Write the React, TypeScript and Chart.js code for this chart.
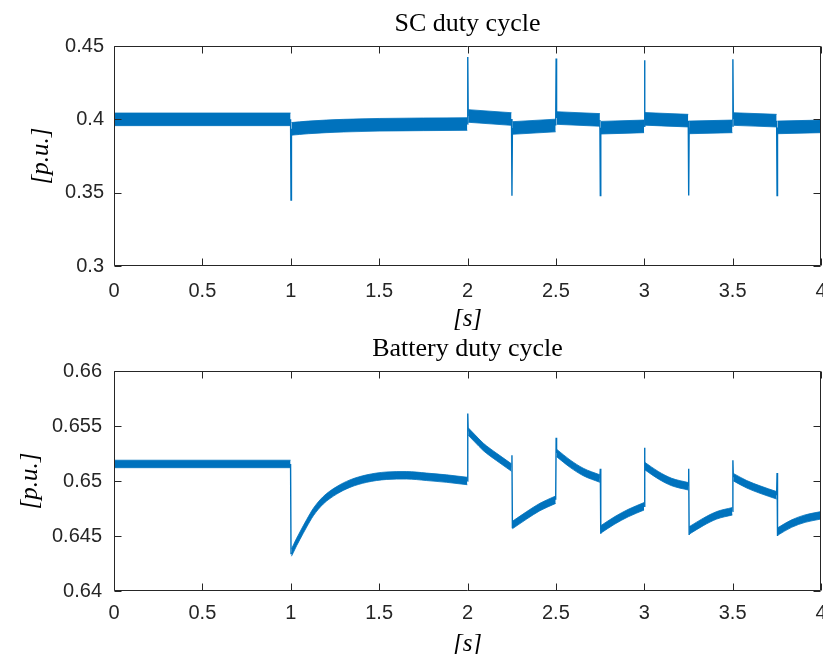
import React, { useEffect, useRef } from 'react';
import { Chart, registerables } from 'chart.js';

Chart.register(...registerables);

// ---------- text ----------
const scTitle = 'SC duty cycle';
const batTitle = 'Battery duty cycle';
const yLabel = '[p.u.]';
const xLabel = '[s]';

// ---------- ticks ----------
const xTicks = [0, 0.5, 1, 1.5, 2, 2.5, 3, 3.5, 4];
const scYTicks = [0.3, 0.35, 0.4, 0.45];
const batYTicks = [0.64, 0.645, 0.65, 0.655, 0.66];

// ---------- SC duty cycle: centre of the noisy band (null = break) ----------
const scBandTime = [
  0, 0.999, 1.0,
  1.004, 1.05, 1.1, 1.2, 1.3, 1.5, 1.75, 1.999, 2.0,
  2.004, 2.249, 2.25,
  2.254, 2.499, 2.5,
  2.504, 2.749, 2.75,
  2.754, 2.999, 3.0,
  3.004, 3.249, 3.25,
  3.254, 3.499, 3.5,
  3.504, 3.749, 3.75,
  3.754, 4.0,
];
const scBandValue = [
  0.4, 0.4, null,
  0.3935, 0.394, 0.3945, 0.3952, 0.3957, 0.3963, 0.3966, 0.3968, null,
  0.4023, 0.4002, null,
  0.3941, 0.3958, null,
  0.4009, 0.3996, null,
  0.3943, 0.3952, null,
  0.4003, 0.3991, null,
  0.3945, 0.3952, null,
  0.4002, 0.3991, null,
  0.3945, 0.3952,
];
// half thickness of the noise band
const scBandHalf = 0.0043;
// switching transients
const scSpikeTime = [1.0, 2.0, 2.25, 2.5, 2.75, 3.0, 3.25, 3.5, 3.75];
const scSpikeFrom = [0.4, 0.3968, 0.4002, 0.3958, 0.3996, 0.3952, 0.3991, 0.3952, 0.3991];
const scSpikePeak = [0.345, 0.4425, 0.3479, 0.4414, 0.348, 0.4403, 0.348, 0.441, 0.348];
const scSpikeTo = [0.3935, 0.4023, 0.3941, 0.4009, 0.3943, 0.4003, 0.3945, 0.4002, 0.3945];

// ---------- Battery duty cycle ----------
const batBandTime = [
  0, 0.999, 1.0,
  1.004, 1.015, 1.033, 1.052, 1.09, 1.128, 1.184, 1.26, 1.335, 1.43, 1.543, 1.656, 1.769, 1.882, 1.999, 2.0,
  2.004, 2.04, 2.09, 2.165, 2.249, 2.25,
  2.254, 2.335, 2.41, 2.499, 2.5,
  2.504, 2.58, 2.655, 2.749, 2.75,
  2.754, 2.834, 2.91, 2.999, 3.0,
  3.004, 3.08, 3.155, 3.249, 3.25,
  3.254, 3.334, 3.41, 3.499, 3.5,
  3.504, 3.58, 3.655, 3.749, 3.75,
  3.754, 3.834, 3.91, 4.0,
];
const batBandValue = [
  0.65155, 0.65155, null,
  0.6435, 0.64385, 0.64445, 0.64503, 0.64615, 0.64718, 0.64825, 0.64915, 0.64976, 0.65022, 0.65048, 0.65052, 0.65038, 0.65022, 0.65, null,
  0.6545, 0.6539, 0.65309, 0.65218, 0.65122, null,
  0.646, 0.64688, 0.64764, 0.6483, null,
  0.65255, 0.65158, 0.65082, 0.65022, null,
  0.6456, 0.64643, 0.64709, 0.6477, null,
  0.65135, 0.65052, 0.64991, 0.64952, null,
  0.6455, 0.64628, 0.64688, 0.64725, null,
  0.65035, 0.6497, 0.64922, 0.6487, null,
  0.6454, 0.64613, 0.64658, 0.64688,
];
const batBandHalf = 0.00034;
const batSpikeTime = [1.0, 2.0, 2.25, 2.5, 2.75, 3.0, 3.25, 3.5, 3.75];
const batSpikeFrom = [0.65155, 0.65, 0.65122, 0.6483, 0.65022, 0.6477, 0.64952, 0.64725, 0.6487];
const batSpikePeak = [0.6434, 0.65613, 0.65234, 0.65394, 0.65112, 0.65303, 0.65112, 0.65188, 0.65073];
const batSpikeTo = [0.6435, 0.6545, 0.6457, 0.65255, 0.6452, 0.65135, 0.6451, 0.65035, 0.645];

// ---------- styles ----------
const BLUE = '#0072BD';
const AXIS = '#262626';
const SANS = '"Liberation Sans", Arial, Helvetica, sans-serif';
const SERIF = '"Liberation Serif", "Times New Roman", serif';

function makeBandEdge(times: number[], values: (number | null)[], offset: number) {
  return times.map((t, i) => {
    const v = values[i];
    return { x: t, y: v === null ? null : v + offset };
  });
}

function makeSpikes(times: number[], from: number[], peak: number[], to: number[]) {
  const pts: { x: number; y: number | null }[] = [];
  times.forEach((t, i) => {
    pts.push({ x: t - 0.001, y: from[i] });
    pts.push({ x: t + 0.0015, y: peak[i] });
    pts.push({ x: t + 0.004, y: to[i] });
    pts.push({ x: t + 0.005, y: null });
  });
  return pts;
}

const framePlugin = {
  id: 'matlabFrame',
  afterDatasetsDraw(chart: any) {
    const { ctx, chartArea: a, scales } = chart;
    const L = Math.round(a.left) + 0.5;
    const R = Math.round(a.right) - 0.5;
    const T = Math.round(a.top) + 0.5;
    const B = Math.round(a.bottom) - 0.5;
    const len = 7;
    ctx.save();
    ctx.strokeStyle = AXIS;
    ctx.lineWidth = 1;
    ctx.beginPath();
    ctx.rect(L, T, R - L, B - T);
    scales.x.ticks.forEach((tk: any) => {
      const px = Math.round(scales.x.getPixelForValue(tk.value)) + 0.5;
      ctx.moveTo(px, B);
      ctx.lineTo(px, B - len);
      ctx.moveTo(px, T);
      ctx.lineTo(px, T + len);
    });
    scales.y.ticks.forEach((tk: any) => {
      const py = Math.round(scales.y.getPixelForValue(tk.value)) + 0.5;
      ctx.moveTo(L, py);
      ctx.lineTo(L + len, py);
      ctx.moveTo(R, py);
      ctx.lineTo(R - len, py);
    });
    ctx.stroke();
    ctx.restore();
  },
};

type Panel = {
  title: string;
  bandT: number[];
  bandV: (number | null)[];
  bandHalf: number;
  spT: number[];
  spFrom: number[];
  spPeak: number[];
  spTo: number[];
  yMin: number;
  yMax: number;
  yTicks: number[];
  titleTop: number;
  titleBottom: number;
  xAxisHeight: number;
  xTickPad: number;
  xTitlePad: number;
  yTickPad: number;
  yTitlePad: number;
};

function buildConfig(p: Panel): any {
  const edgeStyle = {
    borderColor: BLUE,
    backgroundColor: BLUE,
    borderWidth: 0.8,
    pointRadius: 0,
    spanGaps: false,
    cubicInterpolationMode: 'monotone',
  };
  return {
    type: 'line',
    data: {
      datasets: [
        {
          ...edgeStyle,
          data: makeBandEdge(p.bandT, p.bandV, p.bandHalf),
          fill: false,
        },
        {
          ...edgeStyle,
          data: makeBandEdge(p.bandT, p.bandV, -p.bandHalf),
          fill: '-1',
        },
        {
          data: makeSpikes(p.spT, p.spFrom, p.spPeak, p.spTo),
          borderColor: BLUE,
          backgroundColor: BLUE,
          borderWidth: 1.4,
          pointRadius: 0,
          spanGaps: false,
          tension: 0,
          fill: false,
        },
      ],
    },
    options: {
      animation: false,
      responsive: false,
      maintainAspectRatio: false,
      events: [],
      layout: { padding: { left: 0, right: 2, top: 0, bottom: 0 } },
      plugins: {
        legend: { display: false },
        tooltip: { enabled: false },
        filler: { propagate: false },
        title: {
          display: true,
          text: p.title,
          fullSize: false,
          color: '#000',
          font: { family: SERIF, size: 26, weight: 'normal', lineHeight: 1 },
          padding: { top: p.titleTop, bottom: p.titleBottom },
        },
      },
      scales: {
        x: {
          type: 'linear',
          min: 0,
          max: 4,
          afterBuildTicks: (s: any) => {
            s.ticks = xTicks.map((v) => ({ value: v }));
          },
          ticks: {
            callback: (v: any) => String(v),
            font: { family: SANS, size: 20 },
            color: AXIS,
            padding: p.xTickPad,
            maxRotation: 0,
            autoSkip: false,
          },
          grid: { display: false, drawTicks: false },
          border: { display: false },
          title: {
            display: true,
            text: xLabel,
            color: '#000',
            font: { family: SERIF, size: 25, style: 'italic', lineHeight: 1 },
            padding: { top: 0, bottom: p.xTitlePad },
          },
          afterFit: (s: any) => {
            s.height = p.xAxisHeight;
            s.paddingLeft = 0;
            s.paddingRight = 0;
          },
        },
        y: {
          type: 'linear',
          min: p.yMin,
          max: p.yMax,
          afterBuildTicks: (s: any) => {
            s.ticks = p.yTicks.map((v) => ({ value: v }));
          },
          ticks: {
            callback: (v: any) => String(v),
            font: { family: SANS, size: 20 },
            color: AXIS,
            padding: p.yTickPad,
            autoSkip: false,
          },
          grid: { display: false, drawTicks: false },
          border: { display: false },
          title: {
            display: true,
            text: yLabel,
            color: '#000',
            font: { family: SERIF, size: 25, style: 'italic', lineHeight: 1 },
            padding: { top: p.yTitlePad, bottom: 0 },
          },
          afterFit: (s: any) => {
            s.width = 114;
            s.paddingTop = 0;
            s.paddingBottom = 0;
          },
        },
      },
    },
    plugins: [framePlugin],
  };
}

const scPanel: Panel = {
  title: scTitle,
  bandT: scBandTime,
  bandV: scBandValue,
  bandHalf: scBandHalf,
  spT: scSpikeTime,
  spFrom: scSpikeFrom,
  spPeak: scSpikePeak,
  spTo: scSpikeTo,
  yMin: 0.3,
  yMax: 0.45,
  yTicks: scYTicks,
  titleTop: 11,
  titleBottom: 9,
  xAxisHeight: 74,
  xTickPad: 13,
  xTitlePad: 8.5,
  yTickPad: 10,
  yTitlePad: 29,
};

const batPanel: Panel = {
  title: batTitle,
  bandT: batBandTime,
  bandV: batBandValue,
  bandHalf: batBandHalf,
  spT: batSpikeTime,
  spFrom: batSpikeFrom,
  spPeak: batSpikePeak,
  spTo: batSpikeTo,
  yMin: 0.64,
  yMax: 0.66,
  yTicks: batYTicks,
  titleTop: 12,
  titleBottom: 9,
  xAxisHeight: 73,
  xTickPad: 10,
  xTitlePad: 7.5,
  yTickPad: 12,
  yTitlePad: 17.5,
};

function PanelChart({ panel, top }: { panel: Panel; top: number }) {
  const ref = useRef<HTMLCanvasElement | null>(null);
  useEffect(() => {
    if (!ref.current) return;
    const chart = new Chart(ref.current, buildConfig(panel));
    return () => chart.destroy();
  }, [panel]);
  return (
    <canvas
      ref={ref}
      width={823}
      height={340}
      style={{ position: 'absolute', left: 0, top, width: 823, height: 340 }}
    />
  );
}

export default function App() {
  return (
    <div
      style={{
        position: 'absolute',
        left: 0,
        top: 0,
        width: 823,
        height: 654,
        overflow: 'hidden',
        background: '#fff',
      }}
    >
      <PanelChart panel={scPanel} top={0} />
      <PanelChart panel={batPanel} top={324} />
    </div>
  );
}
